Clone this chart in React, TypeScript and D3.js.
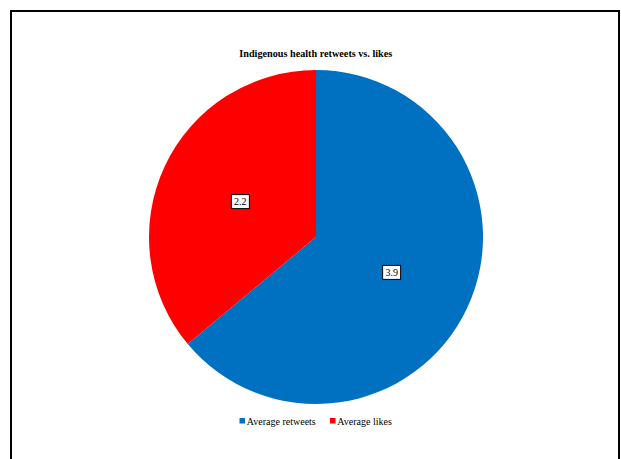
import React from "react";
import * as d3 from "d3";

const title = "Indigenous health retweets vs. likes";
const categories = ["Average retweets", "Average likes"];
const values = [3.9, 2.2];
const colors = ["#0070C0", "#FF0000"];

const W = 621;
const H = 459;

export default function App() {
  const cx = 316;
  const cy = 237;
  const R = 167;
  const pie = d3.pie<number>().sort(null).value((d) => d);
  const arcs = pie(values);
  const arcGen = d3.arc<d3.PieArcDatum<number>>().innerRadius(0).outerRadius(R);
  const labelArc = d3.arc<d3.PieArcDatum<number>>().innerRadius(R / 2).outerRadius(R / 2);

  const legendItems = [
    { x: 239.5, label: categories[0], color: colors[0] },
    { x: 330, label: categories[1], color: colors[1] },
  ];

  return (
    <svg
      width={W}
      height={H}
      style={{ position: "absolute", left: 0, top: 0, display: "block", background: "#fff" }}
      fontFamily="'Liberation Serif', 'Times New Roman', serif"
    >
      <rect x={11} y={11} width={608} height={H + 20} fill="#fff" stroke="#000" strokeWidth={2} />
      <text x={315.8} y={57.3} textAnchor="middle" fontSize={10.2} fontWeight="bold" fill="#000">
        {title}
      </text>
      <g transform={`translate(${cx},${cy})`}>
        {arcs.map((a, i) => (
          <path key={i} d={arcGen(a) || ""} fill={colors[i]} />
        ))}
        {arcs.map((a, i) => {
          const [lx, ly] = labelArc.centroid(a);
          const txt = values[i].toFixed(1);
          return (
            <g key={"l" + i} transform={`translate(${lx},${ly})`}>
              <rect x={-9} y={-7} width={18} height={14} fill="#fff" stroke="#000" strokeWidth={1} />
              <text x={0} y={3.5} textAnchor="middle" fontSize={10} fill="#000">
                {txt}
              </text>
            </g>
          );
        })}
      </g>
      {legendItems.map((it, i) => (
        <g key={i}>
          <rect x={it.x} y={418} width={5.5} height={5.5} fill={it.color} />
          <text x={it.x + 7.3} y={424.5} fontSize={10} fill="#000">
            {it.label}
          </text>
        </g>
      ))}
    </svg>
  );
}
